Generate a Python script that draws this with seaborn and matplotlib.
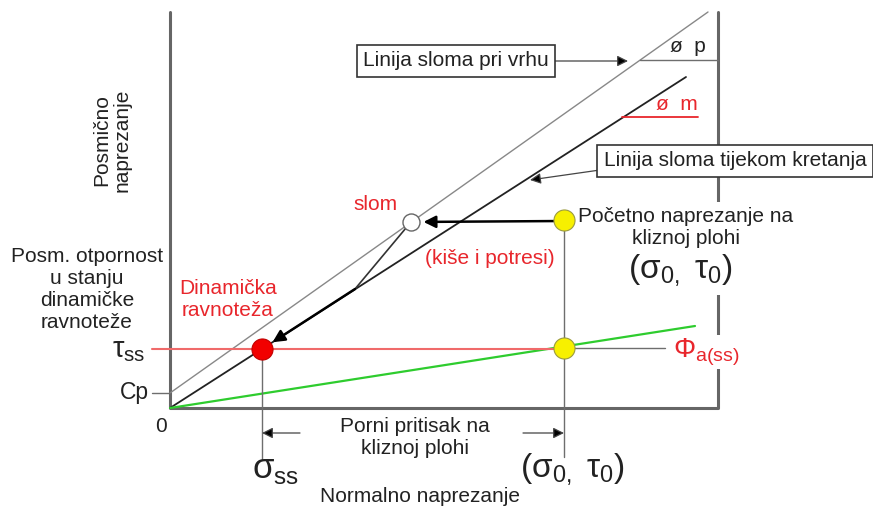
import matplotlib
matplotlib.use("Agg")
import matplotlib.pyplot as plt
import seaborn as sns

# schematic in stress units (origin = 0, 0)
frame_x = [0, 0, 548, 548]
frame_y = [396, 0, 0, 396]

cp = 15
peak_x = [0, 538]
peak_y = [15, 396]          # linija sloma pri vrhu
resid_x = [0, 516]
resid_y = [0, 331]          # linija sloma tijekom kretanja
green_x = [0, 525]
green_y = [0, 82]           # phi a(ss)

sigma_ss, tau_ss = 92, 59
sigma_0, tau_0 = 394, 188
yellow_low = (394, 60)
slom_pt = (241, 186)
junction = (185, 119)

sns.set_style("white")
plt.rcParams['font.family'] = ['Liberation Sans', 'DejaVu Sans']
plt.rcParams['mathtext.fontset'] = 'custom'
plt.rcParams['mathtext.rm'] = 'Liberation Sans'

RED = '#e8262c'
TXT = '#222222'
GRAY = '#6e6e6e'
FS = 15
LS = 1.2

fig = plt.figure(figsize=(8.73, 5.13), dpi=100)
ax = fig.add_axes([0, 0, 1, 1])
ax.set_xlim(-170, 703)
ax.set_ylim(-105, 408)
ax.axis('off')


def line(x, y, **kw):
    sns.lineplot(x=list(x), y=list(y), ax=ax, estimator=None, sort=False, **kw)


# frame
line(frame_x, frame_y, color='#666666', lw=2.2, zorder=1)

# failure lines
line(peak_x, peak_y, color='#888888', lw=1.0, zorder=2)
line(resid_x, resid_y, color='#222222', lw=1.3, zorder=2)
line(green_x, green_y, color='#2ecc2e', lw=1.6, zorder=2)

# reference lines
line([-18, yellow_low[0]], [tau_ss, tau_ss], color='#f06a6a', lw=1.5, zorder=2)
line([yellow_low[0], 495], [yellow_low[1], yellow_low[1]], color=GRAY, lw=1.0, zorder=2)
line([-18, 0], [cp, cp], color=GRAY, lw=1.0, zorder=2)
line([sigma_0, sigma_0], [tau_0, -49], color=GRAY, lw=1.0, zorder=2)
line([sigma_ss, sigma_ss], [tau_ss, -52], color=GRAY, lw=1.0, zorder=2)
line([slom_pt[0], junction[0]], [slom_pt[1], junction[1]], color='#333333', lw=1.2, zorder=2)
line([470, 548], [348, 348], color=GRAY, lw=1.0, zorder=2)
line([452, 528], [291, 291], color=RED, lw=1.3, zorder=2)

# arrows
arr = dict(arrowstyle='-|>', color='black', lw=1.8, mutation_scale=18, shrinkA=0, shrinkB=9)
ax.annotate('', xy=slom_pt, xytext=(sigma_0, 187), arrowprops=arr)
ax.annotate('', xy=(sigma_ss, tau_ss), xytext=junction, arrowprops=arr)
thin = dict(arrowstyle='-|>', ec='#444444', fc='black', lw=0.9, mutation_scale=16,
            shrinkA=0, shrinkB=0)
ax.annotate('', xy=(sigma_ss, -25), xytext=(130, -25), arrowprops=thin)
ax.annotate('', xy=(sigma_0, -25), xytext=(353, -25), arrowprops=thin)
ax.annotate('', xy=(458, 347), xytext=(385, 347), arrowprops=thin)
ax.annotate('', xy=(360, 228), xytext=(430, 238), arrowprops=thin)

# points
sns.scatterplot(x=[sigma_ss], y=[tau_ss], ax=ax, s=230, color='#f20000',
                edgecolor='#c00000', linewidth=0.8, zorder=5)
sns.scatterplot(x=[sigma_0, yellow_low[0]], y=[tau_0, yellow_low[1]], ax=ax, s=230,
                color='#f7f000', edgecolor='#9a9a40', linewidth=0.8, zorder=5)
sns.scatterplot(x=[slom_pt[0]], y=[slom_pt[1]], ax=ax, s=150, color='white',
                edgecolor='#666666', linewidth=1.0, zorder=5)

wb = dict(fc='white', ec='none', pad=4)

# texts
ax.text(-58, 268, 'Posmično\nnaprezanje', rotation=90, ha='center', va='center',
        fontsize=FS, color=TXT, linespacing=1.1)
ax.text(-83, 119, 'Posm. otpornost\nu stanju\ndinamičke\nravnoteže', ha='center', va='center',
        fontsize=FS, color=TXT, linespacing=LS)
ax.text(58, 108, 'Dinamička\nravnoteža', ha='center', va='center', fontsize=FS,
        color=RED, linespacing=LS)
ax.text(-41, 58, 'τ$_{\\mathregular{ss}}$', ha='center', va='center', fontsize=21, color=TXT)
ax.text(-36, 15, 'Cp', ha='center', va='center', fontsize=16.5, color=TXT)
ax.text(-9, -19, '0', ha='center', va='center', fontsize=FS, color=TXT)
ax.text(245, -29, 'Porni pritisak na\nkliznoj plohi', ha='center', va='center',
        fontsize=FS, color=TXT, linespacing=LS)
ax.text(106, -62, 'σ$_{\\mathregular{ss}}$', ha='center', va='center', fontsize=25, color=TXT)
ax.text(402, -62, '(σ$_{\\mathregular{0,}}$ τ$_{\\mathregular{0}}$)', ha='center', va='center',
        fontsize=24, color=TXT)
ax.text(250, -89, 'Normalno naprezanje', ha='center', va='center', fontsize=FS, color=TXT)
ax.text(205, 203, 'slom', ha='center', va='center', fontsize=FS, color=RED)
ax.text(320, 150, '(kiše i potresi)', ha='center', va='center', fontsize=FS, color=RED)
ax.text(510, 137, '(σ$_{\\mathregular{0,}}$ τ$_{\\mathregular{0}}$)', ha='center', va='center',
        fontsize=24, color=TXT, bbox=wb, zorder=4)
ax.text(516, 180, 'Početno naprezanje na\nkliznoj plohi', ha='center', va='center',
        fontsize=FS, color=TXT, linespacing=LS, bbox=wb, zorder=4)
ax.text(536, 56, 'Φ$_{\\mathregular{a(ss)}}$', ha='center', va='center', fontsize=20,
        color=RED, bbox=dict(wb, pad=1), zorder=4)
ax.text(518, 361, 'ø  p', ha='center', va='center', fontsize=FS, color=TXT)
ax.text(507, 304, 'ø  m', ha='center', va='center', fontsize=FS, color=RED)

box = dict(fc='white', ec='#333333', lw=1.2, boxstyle='square,pad=0.3')
ax.text(286, 347, 'Linija sloma pri vrhu', ha='center', va='center', fontsize=FS,
        color=TXT, bbox=box, zorder=4)
ax.text(565, 247, 'Linija sloma tijekom kretanja', ha='center', va='center', fontsize=FS,
        color=TXT, bbox=box, zorder=4)

fig.savefig('out.png', dpi=100)
